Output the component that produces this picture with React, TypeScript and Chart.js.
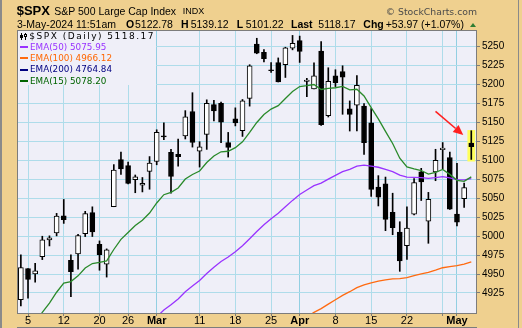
import React, { useEffect, useRef } from 'react';
import { Chart, registerables } from 'chart.js';

Chart.register(...registerables);

// ---------- data ----------
const dates = [
  'Feb 2', 'Feb 5', 'Feb 6', 'Feb 7', 'Feb 8', 'Feb 9', 'Feb 12', 'Feb 13', 'Feb 14', 'Feb 15', 'Feb 16',
  'Feb 20', 'Feb 21', 'Feb 22', 'Feb 23', 'Feb 26', 'Feb 27', 'Feb 28', 'Feb 29', 'Mar 1',
  'Mar 4', 'Mar 5', 'Mar 6', 'Mar 7', 'Mar 8', 'Mar 11', 'Mar 12', 'Mar 13', 'Mar 14', 'Mar 15',
  'Mar 18', 'Mar 19', 'Mar 20', 'Mar 21', 'Mar 22', 'Mar 25', 'Mar 26', 'Mar 27', 'Mar 28',
  'Apr 1', 'Apr 2', 'Apr 3', 'Apr 4', 'Apr 5', 'Apr 8', 'Apr 9', 'Apr 10', 'Apr 11', 'Apr 12',
  'Apr 15', 'Apr 16', 'Apr 17', 'Apr 18', 'Apr 19', 'Apr 22', 'Apr 23', 'Apr 24', 'Apr 25', 'Apr 26',
  'Apr 29', 'Apr 30', 'May 1', 'May 2', 'May 3',
];

const opens = [
  4916.06, 4957.19, 4950.16, 4973.05, 4995.16, 5004.17, 5026.83, 4967.94, 4976.44, 5003.14, 5031.13,
  4989.32, 4963.03, 5038.83, 5100.92, 5093.0, 5074.6, 5067.2, 5085.36, 5098.51,
  5130.99, 5110.52, 5108.03, 5132.38, 5164.46, 5111.96, 5134.3, 5173.49, 5175.14, 5123.31,
  5154.77, 5139.09, 5181.69, 5253.43, 5242.48, 5219.52, 5228.85, 5226.31, 5248.03,
  5257.97, 5204.29, 5194.37, 5244.05, 5158.95, 5211.37, 5217.03, 5167.88, 5172.95, 5171.51,
  5149.67, 5064.59, 5068.97, 5031.52, 5005.44, 4987.33, 5028.85, 5084.86, 5019.88, 5084.65,
  5114.13, 5103.78, 5029.03, 5049.32, 5122.78,
];
const highs = [
  4975.29, 4957.19, 4964.19, 4999.89, 5000.4, 5030.06, 5048.39, 4975.43, 5002.52, 5032.72, 5038.7,
  4993.71, 4983.21, 5094.39, 5111.06, 5097.66, 5080.69, 5077.37, 5104.99, 5140.33,
  5149.67, 5114.54, 5127.97, 5165.62, 5189.26, 5124.66, 5179.87, 5179.14, 5176.85, 5136.86,
  5169.28, 5180.31, 5226.19, 5261.1, 5246.09, 5229.09, 5235.16, 5249.26, 5264.85,
  5263.95, 5208.34, 5228.75, 5256.59, 5222.18, 5219.57, 5224.81, 5178.43, 5211.78, 5175.03,
  5168.43, 5079.84, 5077.96, 5056.66, 5019.02, 5038.84, 5076.12, 5089.48, 5057.75, 5114.62,
  5123.49, 5110.83, 5096.12, 5069.9, 5139.12,
];
const lows = [
  4907.99, 4918.09, 4939.37, 4969.05, 4987.09, 5000.34, 5016.83, 4920.31, 4956.45, 4999.44, 4999.52,
  4955.02, 4946.0, 5038.83, 5081.46, 5068.91, 5057.29, 5058.35, 5061.89, 5094.16,
  5127.18, 5056.82, 5092.22, 5128.21, 5117.5, 5091.14, 5114.48, 5151.88, 5123.3, 5104.35,
  5145.47, 5131.59, 5171.55, 5240.66, 5229.87, 5216.09, 5203.42, 5209.36, 5245.82,
  5229.2, 5184.05, 5194.37, 5146.06, 5157.21, 5197.35, 5160.78, 5138.7, 5138.77, 5107.94,
  5052.47, 5039.83, 5007.25, 5001.89, 4953.56, 4969.4, 5027.96, 5047.02, 4990.58, 5073.14,
  5088.65, 5035.31, 5013.45, 5037.97, 5101.22,
];
const closes = [
  4958.61, 4942.81, 4954.23, 4995.06, 4997.91, 5026.61, 5021.84, 4953.17, 5000.62, 5029.73, 5005.57,
  4975.51, 4981.8, 5087.03, 5088.8, 5069.53, 5078.18, 5069.76, 5096.27, 5137.08,
  5130.95, 5078.65, 5104.76, 5157.36, 5123.69, 5117.94, 5175.27, 5165.31, 5150.48, 5117.09,
  5149.42, 5178.51, 5224.62, 5241.53, 5234.18, 5218.19, 5203.58, 5248.49, 5254.35,
  5243.77, 5205.81, 5211.49, 5147.21, 5204.34, 5202.39, 5209.91, 5160.64, 5199.06, 5123.41,
  5061.82, 5051.41, 5022.21, 5011.12, 4967.23, 5010.6, 5070.55, 5071.63, 5048.42, 5099.96,
  5116.17, 5035.69, 5018.39, 5064.2, 5118.17,
];

// EMA(15) - from first date
const ema15 = [
  4866.3, 4875.9, 4885.7, 4899.4, 4911.7, 4926.0, 4938.0, 4940.0, 4947.6, 4957.9, 4963.9,
  4965.3, 4967.4, 4982.4, 4995.7, 5004.9, 5014.1, 5021.1, 5030.5, 5043.8,
  5054.7, 5057.7, 5063.6, 5075.3, 5081.4, 5086.0, 5097.2, 5105.7, 5111.3, 5112.0,
  5116.7, 5124.4, 5136.9, 5150.0, 5160.5, 5167.7, 5172.2, 5181.7, 5190.8,
  5197.4, 5198.5, 5200.1, 5193.5, 5194.9, 5195.8, 5197.6, 5193.0, 5193.8, 5185.0,
  5169.6, 5154.8, 5138.2, 5122.3, 5102.9, 5091.4, 5088.8, 5086.6, 5081.8, 5084.1,
  5088.1, 5081.5, 5073.6, 5072.4, 5078.2,
];
// EMA(50) - starts at 'Feb 21'
const ema50Start = 'Feb 21';
const ema50 = [
  4829.6, 4839.7, 4849.4, 4858.1, 4866.7, 4874.7, 4883.3, 4893.3,
  4902.6, 4909.5, 4917.2, 4926.6, 4934.3, 4941.5, 4950.7, 4959.1, 4966.6, 4972.5,
  4979.5, 4987.3, 4996.6, 5006.2, 5015.1, 5023.1, 5030.2, 5038.7, 5047.2,
  5054.9, 5060.8, 5066.7, 5069.9, 5075.2, 5080.1, 5085.2, 5088.2, 5092.5, 5093.8,
  5092.5, 5090.9, 5088.2, 5085.2, 5080.6, 5077.8, 5077.5, 5077.3, 5076.2, 5077.1,
  5078.6, 5076.9, 5074.6, 5074.2, 5076.0,
];
// EMA(100) - starts at 'Mar 27'
const ema100Start = 'Mar 27';
const ema100 = [
  4872.1, 4879.6,
  4886.9, 4893.2, 4899.5, 4904.4, 4910.3, 4916.1, 4921.9, 4926.7, 4932.0, 4935.8,
  4938.3, 4940.6, 4942.2, 4943.5, 4944.0, 4945.3, 4947.8, 4950.3, 4952.2, 4955.1,
  4958.3, 4959.9, 4961.0, 4963.1, 4966.1,
];
// EMA(200) - below the visible range
const ema200Start = 'Apr 29';
const ema200 = [4752.8, 4755.6, 4758.3, 4761.3, 4764.8];

const xTickDates = ['Feb 5', 'Feb 12', 'Feb 20', 'Feb 26', 'Mar 1', 'Mar 11', 'Mar 18', 'Mar 25', 'Apr 1', 'Apr 8', 'Apr 15', 'Apr 22', 'Apr 29', 'May 1'];
const xTickLabels = ['5', '12', '20', '26', 'Mar', '11', '18', '25', 'Apr', '8', '15', '22', '', 'May'];
const monthLabels = ['Mar', 'Apr', 'May'];
const yTicks = [4925, 4950, 4975, 5000, 5025, 5050, 5075, 5100, 5125, 5150, 5175, 5200, 5225, 5250];

// annotation: arrow pointing at the last candle, yellow highlight behind it
const arrowFrom = { date: 'Apr 26', value: 5164.5 };
const arrowTo = { date: 'May 1', value: 5133.5 };
const arrowToOffset = 0.88;
const highlightDate = 'May 3';
const highlightRange = [5098.5, 5140];

// ---------- style ----------
const TAN = '#EFD08F';
const PLOT_BG = '#EFEFF8';
const GRID = '#AEDCEA';
const GRID_MONTH = '#92CFE2';
const FONT = '"Liberation Sans", Arial, sans-serif';
const VFONT = '"DejaVu Sans", Verdana, sans-serif';
const C50 = '#9933FF';
const C100 = '#FF6A10';
const C200 = '#000080';
const C15 = '#2A8A2A';

const idx = (d: string) => dates.indexOf(d);

const decor = {
  id: 'decor',
  beforeDraw(chart: any) {
    const { ctx, chartArea: a } = chart;
    ctx.save();
    ctx.fillStyle = PLOT_BG;
    ctx.fillRect(a.left, a.top, a.right - a.left, a.bottom - a.top);
    ctx.restore();
  },
  beforeDatasetsDraw(chart: any) {
    const { ctx, scales } = chart;
    const i = idx(highlightDate);
    const x0 = scales.x.getPixelForValue(i - 0.54);
    const x1 = scales.x.getPixelForValue(i + 0.54);
    const y0 = scales.y.getPixelForValue(highlightRange[1]);
    const y1 = scales.y.getPixelForValue(highlightRange[0]);
    ctx.save();
    ctx.fillStyle = '#FFFF5C';
    ctx.fillRect(x0, y0, x1 - x0, y1 - y0);
    ctx.restore();
  },
  afterDatasetsDraw(chart: any) {
    const { ctx, scales, chartArea: a } = chart;
    // arrow
    const px0 = scales.x.getPixelForValue(idx(arrowFrom.date));
    const py0 = scales.y.getPixelForValue(arrowFrom.value);
    const px1 = scales.x.getPixelForValue(idx(arrowTo.date) + arrowToOffset);
    const py1 = scales.y.getPixelForValue(arrowTo.value);
    const ang = Math.atan2(py1 - py0, px1 - px0);
    const hl = 10, hw = 4.5;
    const bx = px1 - hl * Math.cos(ang), by = py1 - hl * Math.sin(ang);
    ctx.save();
    ctx.strokeStyle = '#FF2020';
    ctx.fillStyle = '#FF2020';
    ctx.lineWidth = 1.6;
    ctx.beginPath();
    ctx.moveTo(px0, py0);
    ctx.lineTo(bx, by);
    ctx.stroke();
    ctx.beginPath();
    ctx.moveTo(px1, py1);
    ctx.lineTo(bx + hw * Math.sin(ang), by - hw * Math.cos(ang));
    ctx.lineTo(bx - hw * Math.sin(ang), by + hw * Math.cos(ang));
    ctx.closePath();
    ctx.fill();
    // plot border
    ctx.strokeStyle = '#7c7c7c';
    ctx.lineWidth = 1;
    ctx.strokeRect(a.left + 0.5, a.top + 0.5, a.right - a.left - 1, a.bottom - a.top);
    ctx.restore();
  },
  afterDraw(chart: any) {
    const { ctx, chartArea: a } = chart;
    ctx.save();
    ctx.strokeStyle = '#7c7c7c';
    ctx.lineWidth = 1;
    ctx.beginPath();
    ctx.moveTo(a.left, 327.5);
    ctx.lineTo(a.right, 327.5);
    ctx.stroke();
    ctx.restore();
  },
};

function Txt(props: { x?: number; right?: number; base: number; size: number; family?: string; weight?: number; color?: string; ls?: number; children: any }) {
  const { x, right, base, size, family = FONT, weight = 400, color = '#000', ls, children } = props;
  const style: any = {
    position: 'absolute',
    top: base - 0.846 * size,
    fontSize: size,
    lineHeight: `${size}px`,
    fontFamily: family,
    fontWeight: weight,
    color,
    whiteSpace: 'nowrap',
    letterSpacing: ls,
  };
  if (right !== undefined) style.right = right;
  else style.left = x;
  return <span style={style}>{children}</span>;
}

export default function App() {
  const ref = useRef<HTMLCanvasElement>(null);

  useEffect(() => {
    document.body.style.margin = '0';
    const canvas = ref.current!;
    const xTickIdx = xTickDates.map(idx);
    const candleData = dates.map((d, i) => ({ x: i, y: [opens[i], closes[i]] }));
    const wickData = dates.map((d, i) => ({ x: i, y: [lows[i], highs[i]] }));
    const line = (arr: number[], start: string) => arr.map((v, k) => ({ x: idx(start) + k, y: v }));

    const chart = new Chart(canvas, {
      type: 'bar',
      data: {
        datasets: [
          {
            type: 'line',
            label: 'EMA(15)',
            data: line(ema15, dates[0]),
            borderColor: C15,
            borderWidth: 1.3,
            pointRadius: 0,
            order: 0,
          } as any,
          {
            type: 'line',
            label: 'EMA(50)',
            data: line(ema50, ema50Start),
            borderColor: C50,
            borderWidth: 1.3,
            pointRadius: 0,
            order: 0,
          },
          {
            type: 'line',
            label: 'EMA(100)',
            data: line(ema100, ema100Start),
            borderColor: C100,
            borderWidth: 1.3,
            pointRadius: 0,
            order: 0,
          },
          {
            type: 'line',
            label: 'EMA(200)',
            data: line(ema200, ema200Start),
            borderColor: C200,
            borderWidth: 1.3,
            pointRadius: 0,
            order: 0,
          },
          {
            type: 'bar',
            label: 'body',
            data: candleData,
            backgroundColor: dates.map((d, i) => (closes[i] > opens[i] ? '#FFFFFF' : '#000000')),
            borderColor: '#000000',
            borderWidth: 1,
            borderSkipped: false,
            barThickness: 5,
            minBarLength: 1,
            grouped: false,
            order: 1,
          },
          {
            type: 'bar',
            label: 'wick',
            data: wickData,
            backgroundColor: '#000000',
            borderWidth: 0,
            barThickness: 1,
            grouped: false,
            order: 2,
          },
        ],
      },
      options: {
        responsive: false,
        animation: false,
        devicePixelRatio: 1,
        events: [],
        layout: { padding: { left: 17, top: 30, right: 0, bottom: 0 } },
        plugins: { legend: { display: false }, tooltip: { enabled: false } },
        scales: {
          x: {
            type: 'linear',
            min: -0.54,
            max: 63.8,
            offset: false,
            afterBuildTicks: (s: any) => {
              s.ticks = xTickIdx.map((v) => ({ value: v }));
            },
            afterFit: (s: any) => {
              s.height = 15;
            },
            grid: {
              offset: false,
              color: (c: any) => (monthLabels.includes(xTickLabels[c.index]) ? GRID_MONTH : GRID),
              lineWidth: 1,
              drawTicks: true,
              tickLength: 3,
              tickColor: '#7c7c7c',
            },
            border: { display: false },
            ticks: {
              autoSkip: false,
              maxRotation: 0,
              minRotation: 0,
              padding: -2,
              color: '#000',
              font: (c: any) => ({
                family: FONT,
                size: 11,
                weight: monthLabels.includes(xTickLabels[c.index]) ? 'bold' : 'normal',
              }),
              callback: (v: any, i: number) => xTickLabels[i],
            },
          },
          y: {
            type: 'linear',
            position: 'right',
            min: 4898.6,
            max: 5272,
            beginAtZero: false,
            afterBuildTicks: (s: any) => {
              s.ticks = yTicks.map((v) => ({ value: v }));
            },
            afterFit: (s: any) => {
              s.width = 45;
            },
            grid: { color: GRID, lineWidth: 1, drawTicks: true, tickLength: 3, tickColor: '#7c7c7c' },
            border: { display: false },
            ticks: {
              padding: 2,
              color: '#000',
              font: { family: FONT, size: 10 },
              callback: (v: any) => String(v),
            },
          },
        },
      } as any,
      plugins: [decor],
    });
    return () => chart.destroy();
  }, []);

  const dash = (top: number, color: string) => (
    <div style={{ position: 'absolute', left: 20, top, width: 8, height: 2, background: color }} />
  );

  return (
    <div style={{ position: 'relative', width: 522, height: 328, background: TAN, overflow: 'hidden' }}>
      <canvas ref={ref} width={522} height={328} style={{ position: 'absolute', left: 0, top: 0, width: 522, height: 328 }} />
      <div style={{ position: 'absolute', left: 0, top: 0, width: 2, height: 328, background: '#8a8a8a' }} />
      <div style={{ position: 'absolute', left: 518, top: 0, width: 1, height: 328, background: '#8a8a8a' }} />

      {/* header line 1 */}
      <Txt x={16.7} base={14.8} size={13} weight={700}>$SPX</Txt>
      <Txt x={54.3} base={14.5} size={10.5}>S&amp;P 500 Large Cap Index</Txt>
      <Txt x={182.7} base={14.5} size={9}>INDX</Txt>
      <Txt right={45} base={14.5} size={9.3} family={VFONT} color="#4a4a4a">© StockCharts.com</Txt>

      {/* header line 2 */}
      <Txt x={17} base={27.7} size={10.5}>3-May-2024 11:51am</Txt>
      <Txt x={126} base={27.7} size={10.5} weight={700}>O</Txt>
      <Txt x={135} base={27.7} size={10.5}>5122.78</Txt>
      <Txt x={181} base={27.7} size={10.5} weight={700}>H</Txt>
      <Txt x={190.7} base={27.7} size={10.5}>5139.12</Txt>
      <Txt x={236.7} base={27.7} size={10.5} weight={700}>L</Txt>
      <Txt x={245.7} base={27.7} size={10.5}>5101.22</Txt>
      <Txt x={291} base={27.7} size={10.5} weight={700}>Last</Txt>
      <Txt x={318.3} base={27.7} size={10.5}>5118.17</Txt>
      <Txt x={363.3} base={27.7} size={10.5} weight={700}>Chg</Txt>
      <Txt x={385.7} base={27.7} size={10.5}>+53.97 (+1.07%)</Txt>
      <div
        style={{
          position: 'absolute',
          left: 470,
          top: 22.5,
          width: 0,
          height: 0,
          borderLeft: '3.5px solid transparent',
          borderRight: '3.5px solid transparent',
          borderBottom: '4px solid #2E7D32',
        }}
      />

      {/* legend */}
      <div style={{ position: 'absolute', left: 18, top: 31, width: 138, height: 54, background: PLOT_BG }} />
      <div style={{ position: 'absolute', left: 21, top: 33, width: 1, height: 7, background: '#000' }} />
      <div style={{ position: 'absolute', left: 20, top: 35, width: 3, height: 3, background: '#000' }} />
      <div style={{ position: 'absolute', left: 25, top: 33, width: 1, height: 7, background: '#000' }} />
      <div style={{ position: 'absolute', left: 24, top: 34, width: 3, height: 3, border: '1px solid #000', boxSizing: 'border-box', background: '#fff' }} />
      <Txt x={29.3} base={39.5} size={9} family={VFONT} ls={1.5}>$SPX (Daily) 5118.17</Txt>
      {dash(46, C50)}
      <Txt x={30} base={50} size={8.8} family={VFONT} color={C50}>EMA(50) 5075.95</Txt>
      {dash(57.3, C100)}
      <Txt x={30} base={61.3} size={8.8} family={VFONT} color="#FF6600">EMA(100) 4966.12</Txt>
      {dash(68.6, C200)}
      <Txt x={30} base={72.6} size={8.8} family={VFONT} color={C200}>EMA(200) 4764.84</Txt>
      {dash(80, '#006400')}
      <Txt x={30} base={84} size={8.8} family={VFONT} color="#006400">EMA(15) 5078.20</Txt>
    </div>
  );
}
